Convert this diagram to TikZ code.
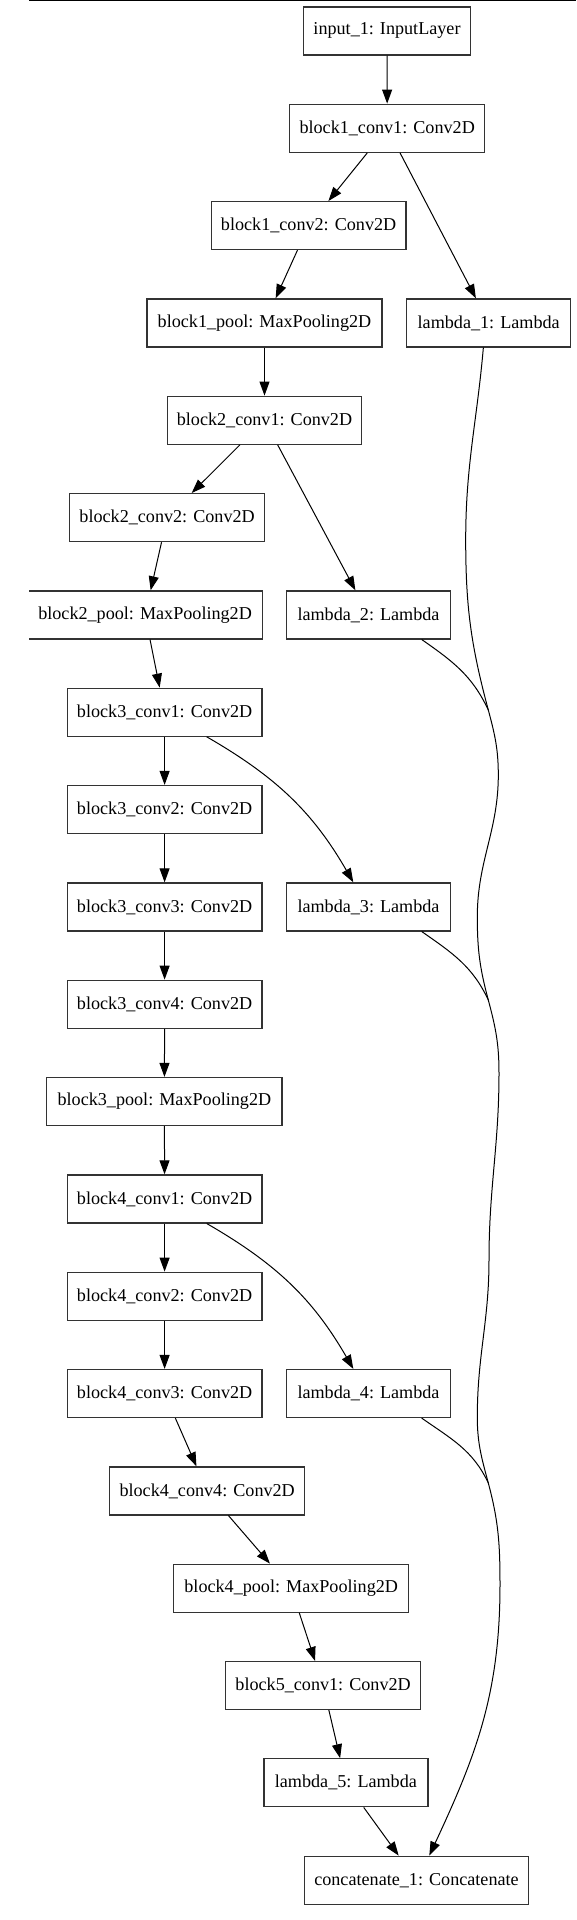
\documentclass[tikz,border=0pt]{standalone}
\usepackage{fontspec}
\setmainfont{Liberation Serif}
\usetikzlibrary{arrows.meta}

\begin{document}
\begin{tikzpicture}[
  x=0.75pt, y=0.75pt,
  layer/.style={rectangle, draw=black!80, line width=0.9pt, minimum height=36pt, inner sep=0pt, font=\fontsize{13.6}{16}\selectfont},
  conv/.style={layer, minimum width=146pt},
  pool/.style={layer, minimum width=176.3pt},
  lam/.style={layer, minimum width=123pt},
  arrow/.style={-{Triangle[length=10.5pt, width=7.5pt]}, line width=0.75pt},
  merge/.style={line width=0.75pt}
]
  \useasboundingbox (0,0) rectangle (576,-1920);
  \begin{scope}
  \clip (29,2) rectangle (577,-1921);
  \draw[line width=2pt] (28,0) -- (576,0);

  \node[layer, minimum width=124.8pt] (input) at (387,-30.9) {input\_1: InputLayer};
  \node[conv] (b1conv1) at (387.2,-128.2) {block1\_conv1: Conv2D};
  \node[conv] (b1conv2) at (308.6,-225.6) {block1\_conv2: Conv2D};
  \node[pool] (b1pool) at (264.5,-322.9) {block1\_pool: MaxPooling2D};
  \node[lam] (lambda1) at (488.7,-322.9) {lambda\_1: Lambda};
  \node[conv] (b2conv1) at (264.5,-420.2) {block2\_conv1: Conv2D};
  \node[conv] (b2conv2) at (167.1,-517.6) {block2\_conv2: Conv2D};
  \node[pool] (b2pool) at (145.1,-614.9) {block2\_pool: MaxPooling2D};
  \node[lam] (lambda2) at (368.5,-614.9) {lambda\_2: Lambda};
  \node[conv] (b3conv1) at (164.6,-712.2) {block3\_conv1: Conv2D};
  \node[conv] (b3conv2) at (164.6,-809.5) {block3\_conv2: Conv2D};
  \node[conv] (b3conv3) at (164.6,-906.9) {block3\_conv3: Conv2D};
  \node[lam] (lambda3) at (368.5,-906.9) {lambda\_3: Lambda};
  \node[conv] (b3conv4) at (164.6,-1004.2) {block3\_conv4: Conv2D};
  \node[pool] (b3pool) at (164.4,-1101.5) {block3\_pool: MaxPooling2D};
  \node[conv] (b4conv1) at (164.6,-1198.9) {block4\_conv1: Conv2D};
  \node[conv] (b4conv2) at (164.6,-1296.2) {block4\_conv2: Conv2D};
  \node[conv] (b4conv3) at (164.6,-1393.5) {block4\_conv3: Conv2D};
  \node[lam] (lambda4) at (368.5,-1393.5) {lambda\_4: Lambda};
  \node[conv] (b4conv4) at (207.2,-1490.9) {block4\_conv4: Conv2D};
  \node[pool] (b4pool) at (291.2,-1588.2) {block4\_pool: MaxPooling2D};
  \node[conv] (b5conv1) at (323.1,-1685.5) {block5\_conv1: Conv2D};
  \node[lam] (lambda5) at (345.9,-1782.8) {lambda\_5: Lambda};
  \node[layer, minimum width=167.8pt] (concat) at (416.5,-1880.2) {concatenate\_1: Concatenate};

  % points where the lambda outputs join
  \coordinate (m1) at (488.3,-710);
  \coordinate (m2) at (488.3,-1000);
  \coordinate (m3) at (488.3,-1483);

  \draw[arrow] (input) -- (b1conv1);
  \draw[arrow] (b1conv1) -- (b1conv2);
  \draw[arrow] (b1conv1) -- (lambda1);
  \draw[arrow] (b1conv2) -- (b1pool);
  \draw[arrow] (b1pool) -- (b2conv1);
  \draw[arrow] (b2conv1) -- (b2conv2);
  \draw[arrow] (b2conv1) -- (lambda2);
  \draw[arrow] (b2conv2) -- (b2pool);
  \draw[arrow] (b2pool) -- (b3conv1);
  \draw[arrow] (b3conv1) -- (b3conv2);
  \draw[arrow] ([xshift=31.6pt]b3conv1.south) to[out=-30, in=120] ([xshift=-11.4pt]lambda3.north);
  \draw[arrow] (b3conv2) -- (b3conv3);
  \draw[arrow] (b3conv3) -- (b3conv4);
  \draw[arrow] (b3conv4) -- (b3pool);
  \draw[arrow] (b3pool) -- (b4conv1);
  \draw[arrow] (b4conv1) -- (b4conv2);
  \draw[arrow] ([xshift=31.6pt]b4conv1.south) to[out=-30, in=120] ([xshift=-11.4pt]lambda4.north);
  \draw[arrow] (b4conv2) -- (b4conv3);
  \draw[arrow] (b4conv3) -- (b4conv4);
  \draw[arrow] (b4conv4) -- (b4pool);
  \draw[arrow] (b4pool) -- (b5conv1);
  \draw[arrow] (b5conv1) -- (lambda5);
  \draw[arrow] (lambda5) -- (concat);

  % long edge on the right
  \draw[arrow] ([xshift=-4pt]lambda1.south) to[out=265, in=90] (465.7,-540)
    to[out=270, in=105] (m1) to[out=285, in=90] (498.3,-775)
    to[out=270, in=90] (477.3,-917) to[out=270, in=105] (m2)
    to[out=285, in=90] (499,-1073) to[out=270, in=90] (489,-1260)
    to[out=270, in=90] (477.3,-1417) to[out=270, in=105] (m3)
    to[out=285, in=90] (500,-1585) to[out=270, in=65] ([xshift=9.6pt]concat.north);
  \draw[merge] ([xshift=39.9pt]lambda2.south) to[out=-35, in=115] (m1);
  \draw[merge] ([xshift=39.9pt]lambda3.south) to[out=-35, in=115] (m2);
  \draw[merge] ([xshift=39.9pt]lambda4.south) to[out=-35, in=115] (m3);
  \end{scope}
\end{tikzpicture}
\end{document}
